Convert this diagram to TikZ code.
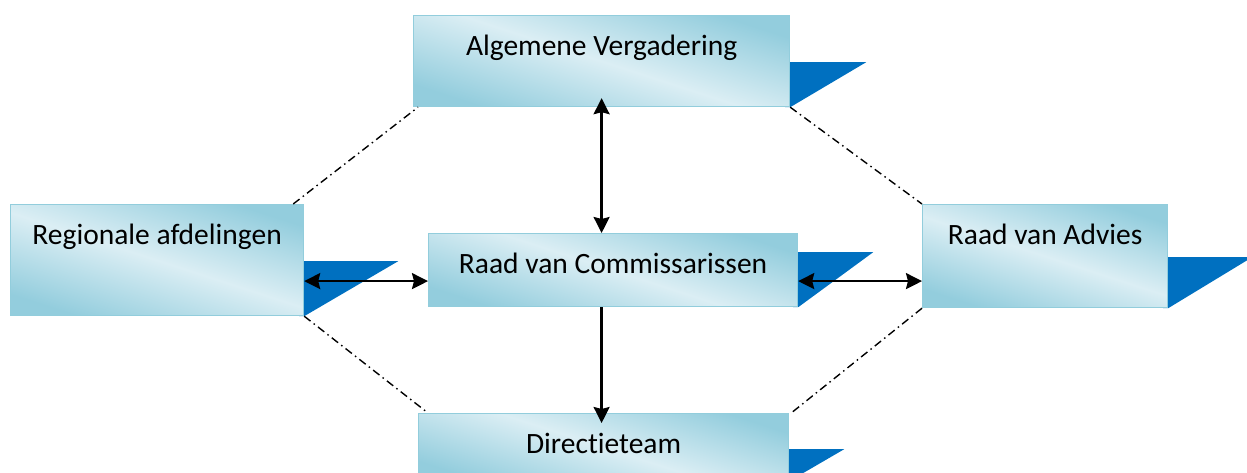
\documentclass[tikz,border=0pt]{standalone}
\usepackage{fontspec}
\setmainfont[Ligatures=NoCommon]{Carlito}
\usetikzlibrary{arrows.meta}
\pgfdeclarelayer{bg}
\pgfsetlayers{bg,main}
\definecolor{boxdark}{HTML}{93CDDD}
\definecolor{boxlight}{HTML}{DBEEF4}
\definecolor{boxline}{HTML}{92CDDC}
\definecolor{flagblue}{HTML}{0070C0}

\begin{document}
\begin{tikzpicture}[x=1pt,y=-1pt]
		\tikzset{unit/.style={draw=boxline, line width=1.2pt, anchor=north west,
				inner ysep=0pt, text height=40pt,
				top color=boxdark, bottom color=boxdark, middle color=boxlight, shading angle=-18,
				font=\fontsize{29.5}{34}\selectfont},
			flag/.style={fill=flagblue},
			tip/.style={line width=2.3pt, -{Stealth[length=16pt,width=16pt,inset=2pt]}},
			link/.style={tip, {Stealth[length=16pt,width=16pt,inset=2pt]}-{Stealth[length=16pt,width=16pt,inset=2pt]}},
			tie/.style={line width=1.4pt, dash pattern=on 8pt off 4pt on 1.5pt off 4pt}}
		\useasboundingbox (0,0) rectangle (1247,473);
		% boxes
		\node[unit, minimum width=376pt, text depth=51pt] (alg) at (413,15) {Algemene Vergadering};
		\node[unit, minimum width=293pt, text depth=71pt] (reg) at (10,204) {Regionale afdelingen};
		\node[unit, minimum width=369pt, text depth=33pt] (rvc) at (428,233) {Raad van Commissarissen};
		\node[unit, minimum width=245pt, text depth=63pt] (rva) at (922,204) {Raad van Advies};
		\node[unit, minimum width=370pt, text depth=27pt] (dir) at (418,413) {Directieteam};
		% flags behind the boxes
		\begin{pgfonlayer}{bg}
			\foreach \n/\w/\h in {alg/76/45, reg/94/55, rvc/75/55, rva/84/51, dir/55/32}
				\fill[flag] ([xshift=-5pt]\n.south east) -- ++(0,-\h) -- ++(\w+5,0) -- (\n.south east) -- cycle;
		\end{pgfonlayer}
		% dash-dot ties
		\draw[tie] ([xshift=-11pt]reg.north east) -- ([xshift=5pt]alg.south west);
		\draw[tie] (alg.south east) -- (rva.north west);
		\draw[tie] (reg.south east) -- ([xshift=10pt]dir.north west);
		\draw[tie] (rva.south west) -- ([xshift=2pt]dir.north east);
		% arrows
		\coordinate (mid) at ([yshift=-11pt]rvc.west);
		\draw[link, shorten <=-9pt] (alg.south) -- (alg.south |- rvc.north);
		\draw[tip, shorten >=-10pt] (alg.south |- rvc.south) -- (alg.south |- dir.north);
		\draw[link] (mid -| reg.east) -- (mid);
		\draw[link] (mid -| rvc.east) -- (mid -| rva.west);
\end{tikzpicture}
\end{document}
